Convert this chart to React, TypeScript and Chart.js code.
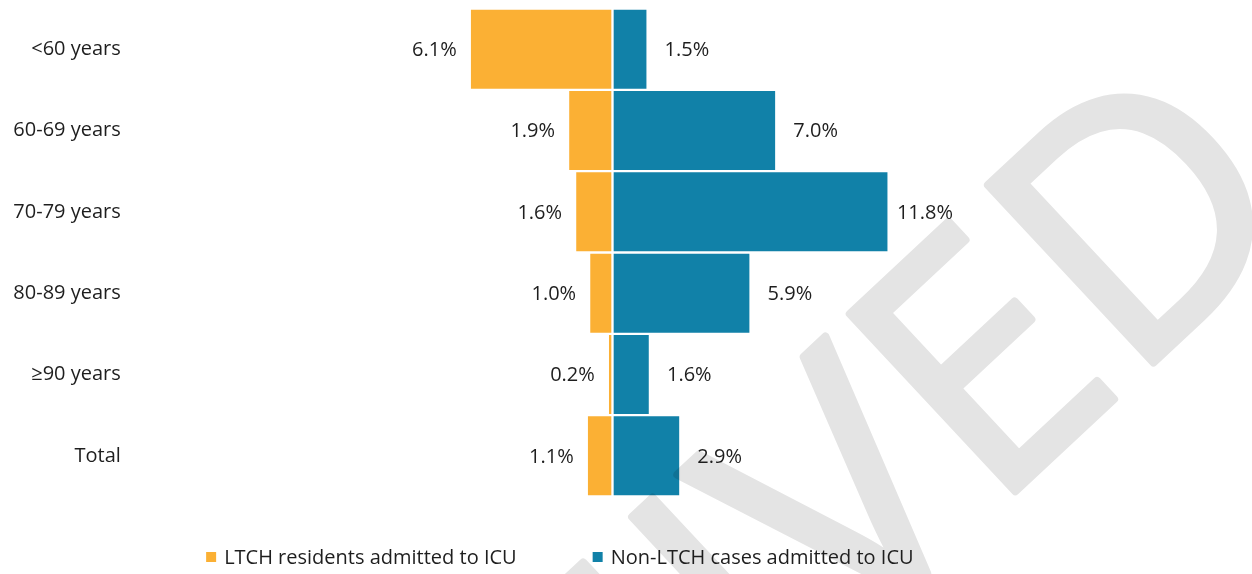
import React, { useEffect, useRef } from "react";
import { Chart, registerables } from "chart.js";

Chart.register(...registerables);

// ---- Data ----
const categories = ["<60 years", "60-69 years", "70-79 years", "80-89 years", "≥90 years", "Total"];
const ltchValues = [6.1, 1.9, 1.6, 1.0, 0.2, 1.1];
const nonLtchValues = [1.5, 7.0, 11.8, 5.9, 1.6, 2.9];
const seriesLabels = ["LTCH residents admitted to ICU", "Non-LTCH cases admitted to ICU"];
const watermarkText = "ARCHIVED";

// ---- Styles ----
const ORANGE = "#FBB034";
const BLUE = "#1181A8";
const TEXT = "#1e1e1e";
const FONT = "'Open Sans', Lato, sans-serif";
const FONT_SIZE = 20;
const LABEL_MAX_RIGHT = 953; // labels are kept inside the plot region, as in the source

const watermarkPlugin = {
  id: "watermark",
  afterDatasetsDraw(chart: any) {
    const ctx = chart.ctx;
    const off = document.createElement("canvas");
    off.width = chart.width;
    off.height = chart.height;
    const o = off.getContext("2d") as CanvasRenderingContext2D;
    o.font = "340px 'Open Sans'";
    const pre = o.measureText(watermarkText.slice(0, 6)).width;
    o.translate(991, 514);
    o.rotate((-43 * Math.PI) / 180);
    o.fillStyle = "#000";
    o.strokeStyle = "#000";
    o.lineWidth = 8;
    o.lineJoin = "round";
    o.textAlign = "left";
    o.textBaseline = "alphabetic";
    o.fillText(watermarkText, -pre, 0);
    o.strokeText(watermarkText, -pre, 0);
    ctx.save();
    ctx.globalAlpha = 0.105;
    ctx.drawImage(off, 0, 0);
    ctx.restore();
  },
};

const valueLabelsPlugin = {
  id: "valueLabels",
  afterDatasetsDraw(chart: any) {
    const ctx = chart.ctx;
    ctx.save();
    ctx.font = `${FONT_SIZE}px ${FONT}`;
    ctx.fillStyle = TEXT;
    ctx.textBaseline = "middle";
    chart.data.datasets.forEach((ds: any, di: number) => {
      const meta = chart.getDatasetMeta(di);
      meta.data.forEach((bar: any, i: number) => {
        const v = ds.data[i] as number;
        const txt = Math.abs(v).toFixed(1) + "%";
        if (v < 0) {
          ctx.textAlign = "right";
          ctx.fillText(txt, bar.x - 13, bar.y + 1);
        } else {
          ctx.textAlign = "left";
          const w = ctx.measureText(txt).width;
          const x = Math.min(bar.x + 17, LABEL_MAX_RIGHT - w);
          ctx.fillText(txt, x, bar.y + 1);
        }
      });
    });
    ctx.restore();
  },
};

const legendPlugin = {
  id: "customLegend",
  afterDraw(chart: any) {
    const ctx = chart.ctx;
    const { chartArea } = chart;
    ctx.save();
    ctx.font = `${FONT_SIZE}px ${FONT}`;
    ctx.textBaseline = "middle";
    ctx.textAlign = "left";
    const box = 10;
    const gapBox = 8;
    const gapItem = 76;
    const items = chart.data.datasets.map((ds: any) => ({ label: ds.label, color: ds.backgroundColor }));
    const widths = items.map((it: any) => box + gapBox + ctx.measureText(it.label).width);
    const total = widths.reduce((a: number, b: number) => a + b, 0) + gapItem * (items.length - 1);
    let x = (chartArea.left + chartArea.right) / 2 - total / 2;
    const y = 557;
    items.forEach((it: any, i: number) => {
      ctx.fillStyle = it.color;
      ctx.fillRect(x, y - box / 2, box, box);
      ctx.fillStyle = TEXT;
      ctx.fillText(it.label, x + box + gapBox, y + 1);
      x += widths[i] + gapItem;
    });
    ctx.restore();
  },
};

export default function App() {
  const canvasRef = useRef<HTMLCanvasElement | null>(null);

  useEffect(() => {
    document.body.style.margin = "0";
    const canvas = canvasRef.current;
    if (!canvas) return;
    const chart = new Chart(canvas, {
      type: "bar",
      data: {
        labels: categories,
        datasets: [
          {
            label: seriesLabels[0],
            data: ltchValues.map((v) => -v),
            backgroundColor: ORANGE,
            borderColor: "#ffffff",
            borderWidth: 1.5,
            borderSkipped: false,
            barPercentage: 1,
            categoryPercentage: 1,
          },
          {
            label: seriesLabels[1],
            data: nonLtchValues,
            backgroundColor: BLUE,
            borderColor: "#ffffff",
            borderWidth: 1.5,
            borderSkipped: false,
            barPercentage: 1,
            categoryPercentage: 1,
          },
        ],
      },
      options: {
        indexAxis: "y",
        animation: false,
        responsive: false,
        layout: { padding: { top: 8.5, bottom: 77.5, left: 0, right: 265.1 } },
        scales: {
          x: { type: "linear", stacked: true, min: -20.5, max: 16, display: false },
          y: {
            stacked: true,
            grid: { display: false, drawTicks: false },
            border: { display: false },
            ticks: { color: TEXT, font: { family: FONT, size: FONT_SIZE }, padding: 12 },
            afterFit: (scale: any) => {
              scale.width = 132.8;
              scale.paddingTop = 0;
              scale.paddingBottom = 0;
            },
          },
        },
        plugins: {
          legend: { display: false },
          tooltip: { enabled: false },
        },
      },
      plugins: [watermarkPlugin, valueLabelsPlugin, legendPlugin],
    });
    return () => chart.destroy();
  }, []);

  return (
    <div style={{ width: 1252, height: 574, background: "#ffffff" }}>
      <canvas ref={canvasRef} width={1252} height={574} />
    </div>
  );
}
